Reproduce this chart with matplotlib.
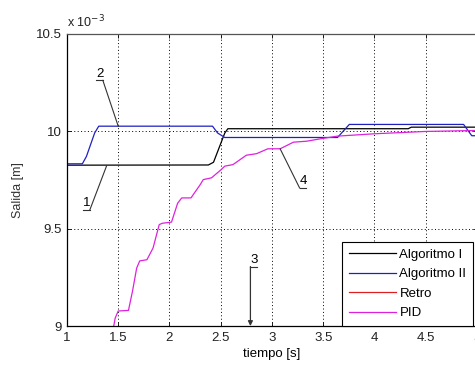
import matplotlib
matplotlib.use('Agg')
import matplotlib.pyplot as plt

plt.rcParams['font.family'] = ['Liberation Sans', 'DejaVu Sans']
plt.rcParams['font.size'] = 9

# datos (salida en unidades de 1e-3 m)
t_alg1 = [1.0, 2.38, 2.43, 2.54, 2.57, 4.33, 4.36, 5.0]
y_alg1 = [9.825, 9.826, 9.84, 9.99, 10.012, 10.012, 10.02, 10.02]

t_alg2 = [1.0, 1.15, 1.19, 1.27, 1.31, 2.42, 2.47, 2.54, 3.64, 3.755, 4.87, 4.95, 5.0]
y_alg2 = [9.832, 9.832, 9.87, 9.99, 10.025, 10.025, 9.99, 9.967, 9.967, 10.034, 10.034, 9.976, 9.976]

t_retro = [1.0, 5.0]
y_retro = [8.6, 8.6]

t_pid = [1.44, 1.47, 1.5, 1.6, 1.64, 1.68, 1.71, 1.78, 1.84, 1.9, 1.93, 2.02,
         2.08, 2.12, 2.21, 2.3, 2.33, 2.41, 2.5, 2.54, 2.62, 2.75, 2.85, 2.96,
         3.08, 3.21, 3.34, 3.47, 3.64, 4.0, 4.5, 5.0]
y_pid = [8.95, 9.04, 9.077, 9.08, 9.18, 9.297, 9.334, 9.34, 9.40, 9.52, 9.527, 9.533,
         9.63, 9.657, 9.657, 9.725, 9.751, 9.76, 9.80, 9.82, 9.828, 9.876, 9.884, 9.909,
         9.909, 9.943, 9.948, 9.96, 9.974, 9.986, 9.998, 10.003]

labels = ['Algoritmo I', 'Algoritmo II', 'Retro', 'PID']
colors = ['black', '#2020c0', '#e02020', '#dd22dd']

# etiquetas numeradas: texto, punto de la etiqueta, punto senalado
ann_text = ['1', '2', '3', '4']
ann_from = [(1.224, 9.597), (1.35, 10.26), (2.79, 9.305), (3.27, 9.708)]
ann_to = [(1.387, 9.822), (1.5, 10.025), (2.79, 9.0), (3.08, 9.909)]
ann_side = ['left', 'left', 'right', 'right']

fig = plt.figure(figsize=(4.75, 3.69), dpi=100)
ax = fig.add_axes([0.141, 0.1165, 0.863, 0.7925])

for t, y, lab, c in zip([t_alg1, t_alg2, t_retro, t_pid],
                        [y_alg1, y_alg2, y_retro, y_pid], labels, colors):
    ax.plot(t, y, color=c, lw=0.9, label=lab)

ax.set_xlim(1, 5)
ax.set_ylim(9, 10.5)
ax.set_xticks([1, 1.5, 2, 2.5, 3, 3.5, 4, 4.5, 5])
ax.set_xticklabels(['1', '1.5', '2', '2.5', '3', '3.5', '4', '4.5', '5'])
ax.set_yticks([9, 9.5, 10, 10.5])
ax.set_yticklabels(['9', '9.5', '10', '10.5'])
ax.tick_params(direction='in', top=True, right=True, length=3, width=0.6,
               pad=4, labelsize=9.5, colors='black', labelcolor='#222222')
ax.grid(True, color='black', linestyle=(0, (1, 2.5)), lw=0.7)
for s in ax.spines.values():
    s.set_color('#555555')
    s.set_linewidth(0.9)
ax.spines['left'].set_color('black')
ax.spines['bottom'].set_color('black')

ax.set_xlabel('tiempo [s]', fontsize=9.5, labelpad=3)
ax.set_ylabel('Salida [m]', fontsize=9, color='#333333')
ax.yaxis.set_label_coords(-0.105, 0.465)
ax.text(0.0, 1.012, r'x 10$^{-3}$', transform=ax.transAxes, ha='left', va='bottom',
        fontsize=9, color='#222222')

for txt, p0, p1, side in zip(ann_text, ann_from, ann_to, ann_side):
    if txt == '3':
        ax.annotate('', xy=p1, xytext=p0,
                    arrowprops=dict(arrowstyle='-|>', color='#333333', lw=0.9,
                                    mutation_scale=7, shrinkA=0, shrinkB=0))
    else:
        ax.plot([p0[0], p1[0]], [p0[1], p1[1]], color='#333333', lw=0.8)
    w = 0.065
    if side == 'left':
        ax.plot([p0[0] - w, p0[0]], [p0[1], p0[1]], color='#333333', lw=0.8)
        xc = p0[0] - w / 2
    else:
        ax.plot([p0[0], p0[0] + w], [p0[1], p0[1]], color='#333333', lw=0.8)
        xc = p0[0] + w / 2
    ax.text(xc, p0[1] + 0.003, txt, ha='center', va='bottom', fontsize=9.5)

leg = ax.legend(loc='lower left', bbox_to_anchor=(0.72, 0.1165), bbox_transform=fig.transFigure,
                fancybox=False, edgecolor='black', framealpha=1, fontsize=9.5,
                handlelength=3.6, handletextpad=0.25, labelspacing=0.55,
                borderpad=0.5, borderaxespad=0)
leg.get_frame().set_linewidth(0.8)

fig.savefig('out.png', dpi=100)
